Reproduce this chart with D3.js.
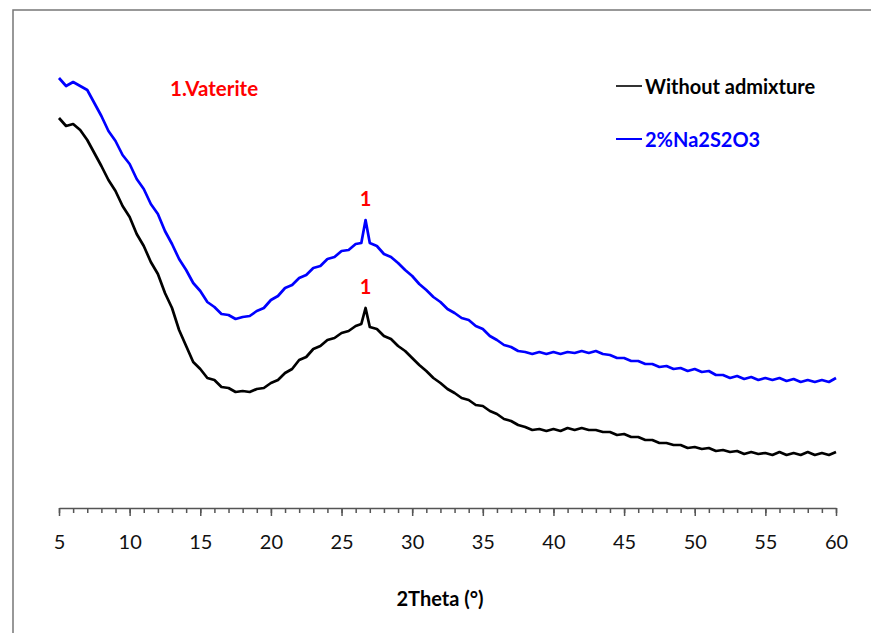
<!DOCTYPE html>
<html>
<head>
<meta charset="utf-8">
<script src="https://cdn.jsdelivr.net/npm/d3@7"></script>
<style>
  body { margin: 0; background: #fff; }
  text { font-family: Lato, "Open Sans", sans-serif; }
</style>
</head>
<body>
<div class="d3-container"></div>
<script>
// 2theta positions (deg)
var twoTheta = [5,5.5,6,6.5,7,7.5,8,8.5,9,9.5,10,10.5,11,11.5,12,12.5,13,13.5,14,14.5,15,15.5,16,16.5,17,17.5,18,18.5,19,19.5,20,20.5,21,21.5,22,22.5,23,23.5,24,24.5,25,25.5,26,26.4,26.7,
  27,27.5,28,28.5,29,29.5,30,30.5,31,31.5,32,32.5,33,33.5,34,34.5,35,35.5,36,36.5,37,37.5,38,38.5,39,39.5,40,40.5,41,41.5,42,42.5,43,43.5,44,44.5,45,45.5,46,46.5,47,47.5,48,48.5,49,49.5,50,50.5,51,51.5,52,52.5,53,53.5,54,54.5,55,55.5,56,56.5,57,57.5,58,58.5,59,59.5,60];

// intensity (arbitrary units)
var withoutAdmixture = [780,764,768,756,736,710,684,656,634,604,582,548,524,492,468,430,400,356,324,292,278,260,256,242,240,232,234,232,238,240,250,256,270,278,296,302,318,324,336,340,350,354,364,368,400,
  362,358,344,338,324,314,300,286,274,260,250,238,230,220,216,206,204,194,188,178,174,166,162,156,158,154,158,154,160,156,160,156,156,152,152,146,148,142,142,136,136,130,130,126,126,120,122,118,120,114,116,112,114,108,112,108,110,106,112,106,110,106,112,106,110,106,112];

var na2s2o3 = [860,844,852,844,836,810,784,754,734,706,688,658,638,608,588,554,528,498,476,450,434,412,402,388,386,378,382,384,394,400,416,424,440,446,460,466,480,484,498,502,514,516,528,530,576,
  530,524,508,502,490,476,464,448,436,422,412,398,390,380,376,364,358,344,336,326,322,314,312,308,312,308,312,308,312,310,314,310,314,308,306,300,300,294,294,288,288,282,284,278,280,274,278,272,274,266,266,260,264,258,262,256,260,256,260,254,258,252,256,252,256,252,260];

var seriesNames = ["Without admixture", "2%Na2S2O3"];
var seriesColors = ["#000000", "#0000ff"];
var majorTicks = [5,10,15,20,25,30,35,40,45,50,55,60];
var minorTicks = d3.range(5, 61, 1);
var peakTheta = 26.7;

var width = 871, height = 633;

var svg = d3.select(".d3-container").append("svg")
	.attr("width", width)
	.attr("height", height);

// outer frame (only left and top edges fall inside the picture)
svg.append("rect")
	.attr("x", 13)
	.attr("y", 10)
	.attr("width", 900)
	.attr("height", 700)
	.style("fill", "none")
	.style("stroke", "#777")
	.style("stroke-width", 1.5);

var x = d3.scaleLinear().domain([5, 60]).range([59, 836]);
var y = d3.scaleLinear().domain([0, 1000]).range([508, 8]);

var line = d3.line()
	.x((d) => x(d[0]))
	.y((d) => y(d[1]));

var series = [withoutAdmixture, na2s2o3];
series.forEach((vals, i) => {
	var pts = twoTheta.map((t, j) => [t, vals[j]]);
	svg.append("path")
		.attr("d", line(pts))
		.style("fill", "none")
		.style("stroke", seriesColors[i])
		.style("stroke-width", 2.7)
		.style("stroke-linejoin", "round");
});

// x axis: minor then major ticks
var axisY = y(0);
svg.append("g")
	.attr("transform", "translate(0," + axisY + ")")
	.call(d3.axisBottom(x).tickValues(minorTicks).tickSize(5).tickSizeOuter(0).tickFormat(""))
	.call((g) => g.selectAll("line,path").style("stroke", "#555").style("stroke-width", 1.5));

svg.append("g")
	.attr("transform", "translate(0," + axisY + ")")
	.call(d3.axisBottom(x).tickValues(majorTicks).tickSize(8).tickSizeOuter(0).tickPadding(19))
	.call((g) => g.select(".domain").remove())
	.call((g) => g.selectAll("line").style("stroke", "#555").style("stroke-width", 1.5))
	.call((g) => g.selectAll("text")
		.style("font-family", "Lato, sans-serif")
		.style("font-size", "20px")
		.style("fill", "#111"));

svg.append("text")
	.attr("x", 440)
	.attr("y", 606)
	.attr("text-anchor", "middle")
	.style("font-size", "20px")
	.style("font-weight", "bold")
	.text("2Theta (\u00b0)");

// legend
seriesNames.forEach((name, i) => {
	var ly = 86 + i * 53;
	svg.append("line")
		.attr("x1", 616).attr("x2", 642)
		.attr("y1", ly).attr("y2", ly)
		.style("stroke", i == 0 ? "#333" : seriesColors[i])
		.style("stroke-width", 2);
	svg.append("text")
		.attr("x", 645)
		.attr("y", ly + 8)
		.style("font-size", "20px")
		.style("font-weight", "bold")
		.style("fill", seriesColors[i])
		.text(name);
});

// annotations
svg.append("text")
	.attr("x", 170)
	.attr("y", 96)
	.style("font-size", "20.5px")
	.style("font-weight", "bold")
	.style("fill", "#ff0000")
	.text("1.Vaterite");

var peakIdx = twoTheta.indexOf(peakTheta);
series.forEach((vals) => {
	svg.append("text")
		.attr("x", x(peakTheta))
		.attr("y", y(vals[peakIdx]) - 14)
		.attr("text-anchor", "middle")
		.style("font-size", "20px")
		.style("font-weight", "bold")
		.style("fill", "#ff0000")
		.text("1");
});
</script>
</body>
</html>
